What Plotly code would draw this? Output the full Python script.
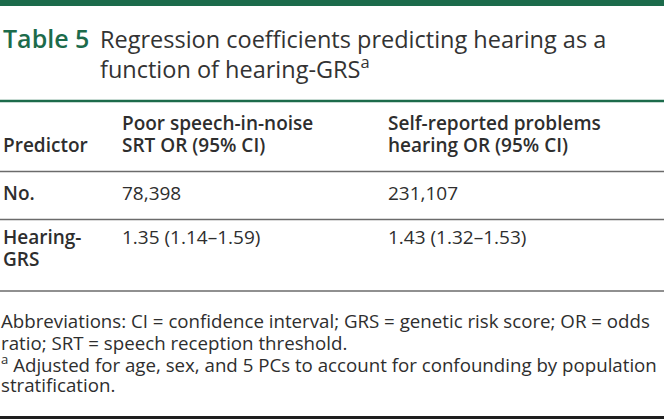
import plotly.graph_objects as go

# ---- content ----
table_label = "Table 5"
title_lines = ["Regression coefficients predicting hearing as a",
               "function of hearing-GRS<sup>a</sup>"]
col_headers = [["Predictor"],
               ["Poor speech-in-noise", "SRT OR (95% CI)"],
               ["Self-reported problems", "hearing OR (95% CI)"]]
predictors = [["No."], ["Hearing-", "GRS"]]
srt_values = ["78,398", "1.35 (1.14–1.59)"]
self_values = ["231,107", "1.43 (1.32–1.53)"]
footnotes = ["Abbreviations: CI = confidence interval; GRS = genetic risk score; OR = odds",
             "ratio; SRT = speech reception threshold.",
             "<sup>a</sup> Adjusted for age, sex, and 5 PCs to account for confounding by population",
             "stratification."]

# ---- style ----
W, H = 664, 419
FONT = "Open Sans"
GREEN = "#1c6b4b"
TEXT = "#2e2e2e"
RULE = "#6b6b6b"

fig = go.Figure()
fig.update_layout(
    width=W, height=H, margin=dict(l=0, r=0, t=0, b=0),
    paper_bgcolor="white", plot_bgcolor="white", showlegend=False,
    xaxis=dict(range=[0, W], visible=False, fixedrange=True),
    yaxis=dict(range=[H, 0], visible=False, fixedrange=True),
)

def put(text, x, baseline, size, weight=400, color=TEXT):
    fig.add_annotation(text=text, x=x, y=baseline - 0.388 * size,
                       xref="x", yref="y", xanchor="left", yanchor="middle",
                       showarrow=False, align="left", borderpad=0,
                       font=dict(family=FONT, size=size, color=color, weight=weight))

def hline(y, width, color, x0=0, x1=W):
    fig.add_shape(type="line", x0=x0, x1=x1, y0=y, y1=y, xref="x", yref="y",
                  line=dict(color=color, width=width))

# rules
hline(3, 6, GREEN)
hline(101, 2.5, GREEN)
hline(171.5, 1.5, RULE)
hline(219.5, 1.5, RULE)
hline(291, 1.5, RULE)
hline(417.5, 3, "#1e1e1e")

# title
put(table_label, 2, 48, 25, weight=600, color=GREEN)
title_base = [48, 77]
for line, b in zip(title_lines, title_base):
    put(line, 99, b, 23.5, color="#333333")

# header
col_x = [2, 121, 387]
HS = 19
hdr_base = [130, 152]
for cx, lines in zip(col_x, col_headers):
    bases = hdr_base[-len(lines):]
    for line, b in zip(lines, bases):
        put(line, cx, b, HS, weight=600)

# body
row_bases = [[200], [244, 266]]
for i, pred in enumerate(predictors):
    for line, b in zip(pred, row_bases[i]):
        put(line, col_x[0], b, HS, weight=600)
    put(srt_values[i], col_x[1], row_bases[i][0], HS)
    put(self_values[i], col_x[2], row_bases[i][0], HS)

# footnotes
FS = 18.7
foot_base = [328, 349.5, 371, 392]
for line, b in zip(footnotes, foot_base):
    put(line, 0, b, FS)

fig.write_html("out.html", config={"displayModeBar": False},
               post_script="document.body.style.margin='0';")
